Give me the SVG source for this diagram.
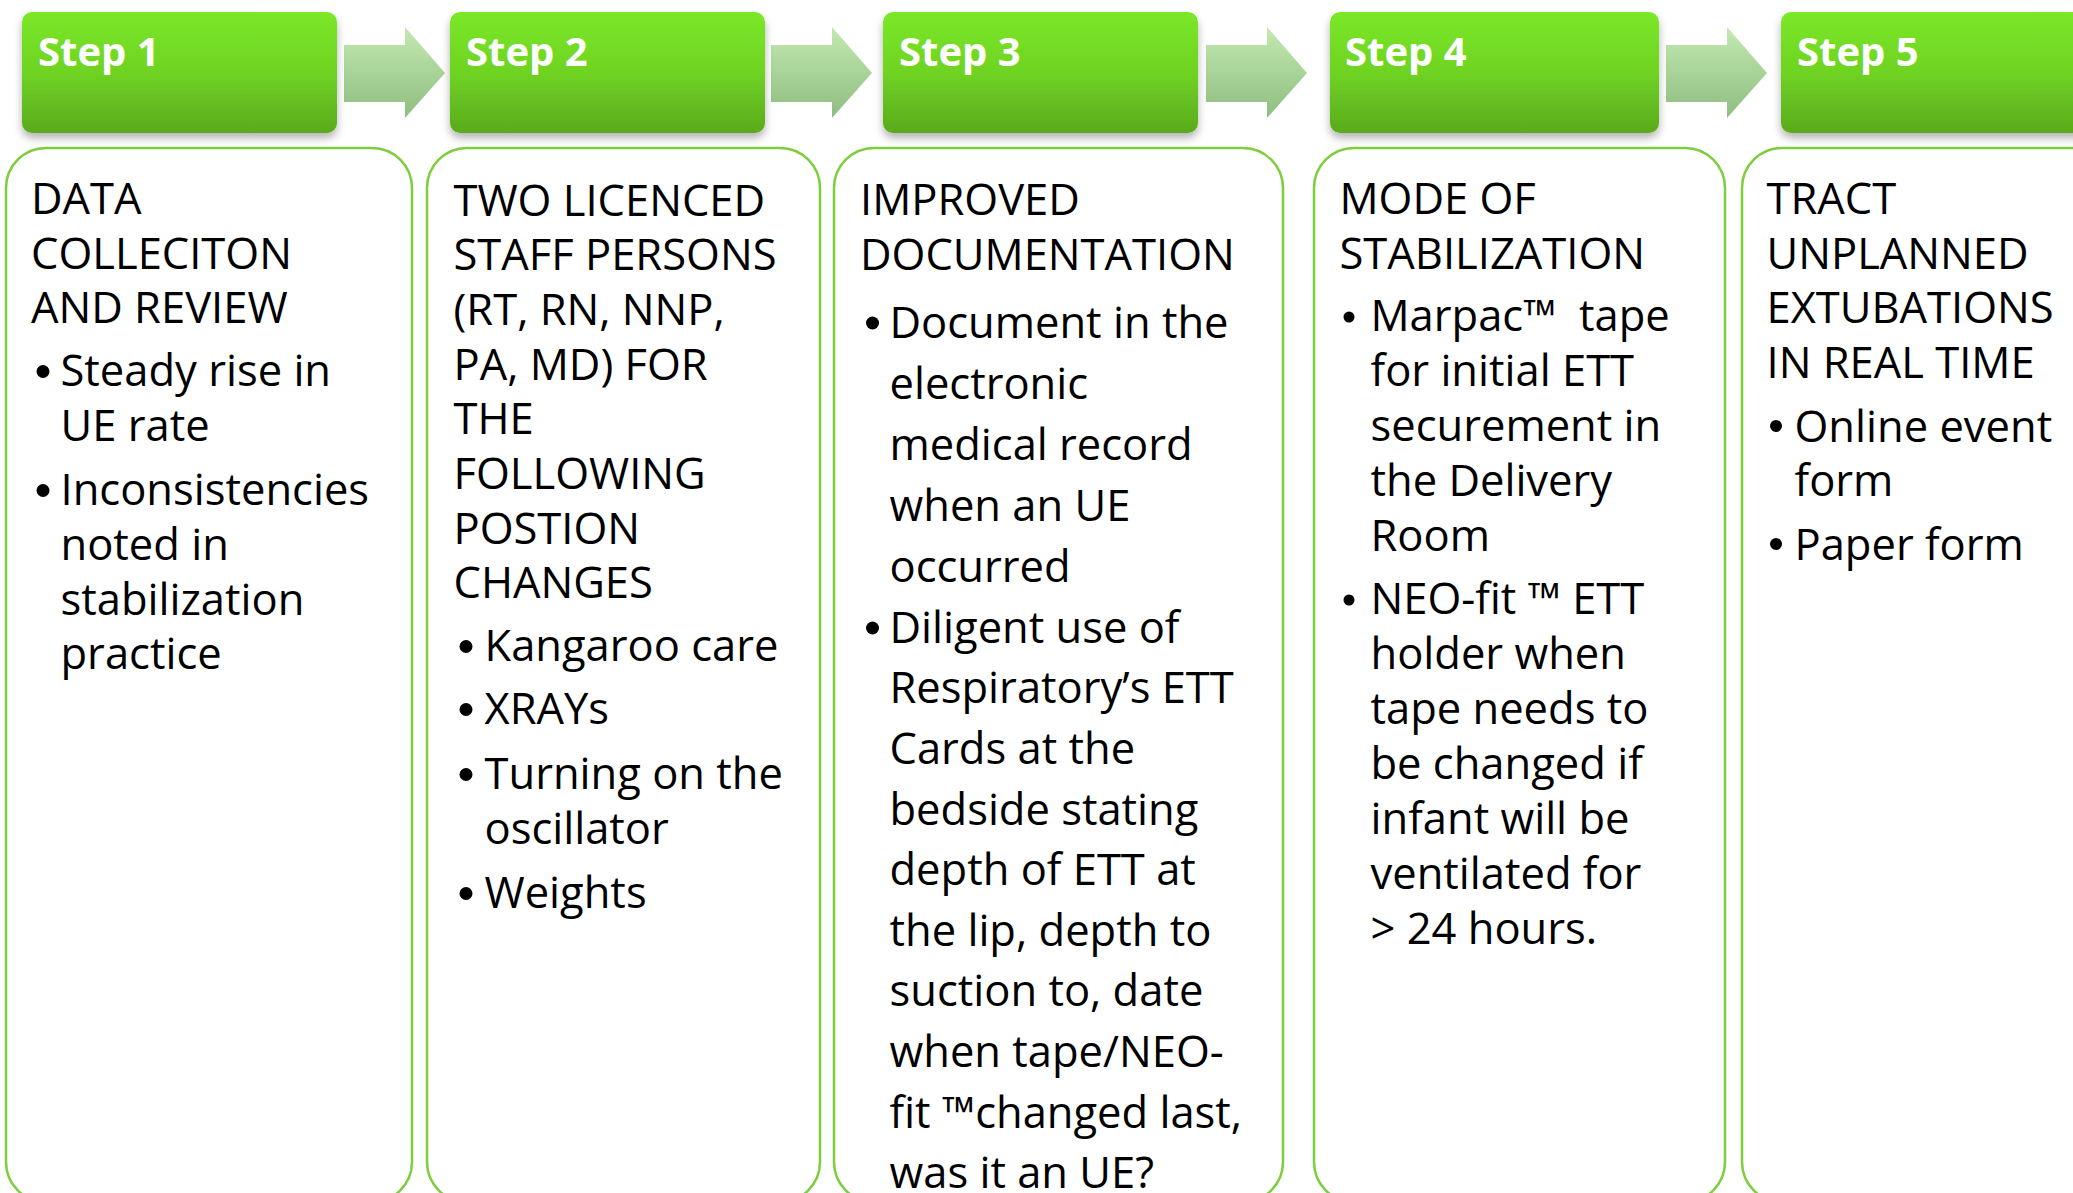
<svg xmlns="http://www.w3.org/2000/svg" width="2073" height="1193" viewBox="0 0 2073 1193">
  <defs>
    <linearGradient id="hdrGrad" x1="0" y1="0" x2="0" y2="1">
      <stop offset="0" stop-color="#7be827"/>
      <stop offset="0.5" stop-color="#6fd323"/>
      <stop offset="1" stop-color="#5aaa1d"/>
    </linearGradient>
    <linearGradient id="arrGrad" x1="0" y1="0" x2="0" y2="1">
      <stop offset="0" stop-color="#c3e9b1"/>
      <stop offset="1" stop-color="#8fbd80"/>
    </linearGradient>
    <filter id="shadow" x="-10%" y="-20%" width="120%" height="150%">
      <feDropShadow dx="0" dy="5" stdDeviation="4" flood-color="#000" flood-opacity="0.3"/>
    </filter>
  </defs>
  <style>
    .hdr { fill: url(#hdrGrad); filter: url(#shadow); }
    .hdrtxt { font-family: "Open Sans", "Noto Sans", sans-serif; font-weight: 700; font-size: 40px; fill: #ffffff; }
    .box { fill: #ffffff; stroke: #7dcd3c; stroke-width: 2.5; }
    .t { font-family: "Open Sans", "Noto Sans", sans-serif; font-size: 43.5px; fill: #000000; }
    .dot { fill: #000000; }
    .arr { fill: url(#arrGrad); }
  </style>
  <rect width="2073" height="1193" fill="#ffffff"/>

  <g id="connectors">
    <polygon class="arr" points="344,45 405,45 405,27 445,73 405,118 405,102 344,102"/>
    <polygon class="arr" points="771,45 832,45 832,27 872,73 832,118 832,102 771,102"/>
    <polygon class="arr" points="1206,45 1267,45 1267,27 1307,73 1267,118 1267,102 1206,102"/>
    <polygon class="arr" points="1666,45 1727,45 1727,27 1767,73 1727,118 1727,102 1666,102"/>
  </g>

  <g id="step1">
    <rect class="hdr" x="22" y="12" width="315" height="121" rx="10"/>
    <text class="hdrtxt" x="38" y="66">Step 1</text>
    <rect class="box" x="6" y="148" width="406" height="1054" rx="40"/>
    <text class="t" x="31" y="214">DATA</text>
    <text class="t" x="31" y="268.5">COLLECITON</text>
    <text class="t" x="31" y="323">AND REVIEW</text>
    <circle class="dot" cx="43" cy="371.5" r="6.5"/>
    <text class="t" x="60.5" y="386">Steady rise in</text>
    <text class="t" x="60.5" y="441">UE rate</text>
    <circle class="dot" cx="43" cy="490.5" r="6.5"/>
    <text class="t" x="60.5" y="505">Inconsistencies</text>
    <text class="t" x="60.5" y="560">noted in</text>
    <text class="t" x="60.5" y="615">stabilization</text>
    <text class="t" x="60.5" y="669">practice</text>
  </g>

  <g id="step2">
    <rect class="hdr" x="450" y="12" width="315" height="121" rx="10"/>
    <text class="hdrtxt" x="466" y="66">Step 2</text>
    <rect class="box" x="427" y="148" width="393" height="1054" rx="40"/>
    <text class="t" x="453.5" y="215.5">TWO LICENCED</text>
    <text class="t" x="453.5" y="270">STAFF PERSONS</text>
    <text class="t" x="453.5" y="325">(RT, RN, NNP,</text>
    <text class="t" x="453.5" y="380">PA, MD) FOR</text>
    <text class="t" x="453.5" y="434">THE</text>
    <text class="t" x="453.5" y="489">FOLLOWING</text>
    <text class="t" x="453.5" y="544">POSTION</text>
    <text class="t" x="453.5" y="598">CHANGES</text>
    <circle class="dot" cx="466" cy="646.5" r="6.5"/>
    <text class="t" x="484.5" y="661">Kangaroo care</text>
    <circle class="dot" cx="466" cy="709.5" r="6.5"/>
    <text class="t" x="484.5" y="724">XRAYs</text>
    <circle class="dot" cx="466" cy="774.5" r="6.5"/>
    <text class="t" x="484.5" y="789">Turning on the</text>
    <text class="t" x="484.5" y="844">oscillator</text>
    <circle class="dot" cx="466" cy="893.5" r="6.5"/>
    <text class="t" x="484.5" y="908">Weights</text>
  </g>

  <g id="step3">
    <rect class="hdr" x="883" y="12" width="315" height="121" rx="10"/>
    <text class="hdrtxt" x="899" y="66">Step 3</text>
    <rect class="box" x="834" y="148" width="449" height="1054" rx="40"/>
    <text class="t" x="860" y="215">IMPROVED</text>
    <text class="t" x="860" y="269.5">DOCUMENTATION</text>
    <circle class="dot" cx="872.5" cy="323" r="6.5"/>
    <text class="t" x="889.5" y="337.5">Document in the</text>
    <text class="t" x="889.5" y="398.5">electronic</text>
    <text class="t" x="889.5" y="459.5">medical record</text>
    <text class="t" x="889.5" y="520.5">when an UE</text>
    <text class="t" x="889.5" y="581.5">occurred</text>
    <circle class="dot" cx="872.5" cy="628" r="6.5"/>
    <text class="t" x="889.5" y="642.5">Diligent use of</text>
    <text class="t" x="889.5" y="703">Respiratory’s ETT</text>
    <text class="t" x="889.5" y="764">Cards at the</text>
    <text class="t" x="889.5" y="824.5">bedside stating</text>
    <text class="t" x="889.5" y="885">depth of ETT at</text>
    <text class="t" x="889.5" y="945.5">the lip, depth to</text>
    <text class="t" x="889.5" y="1006">suction to, date</text>
    <text class="t" x="889.5" y="1067">when tape/NEO-</text>
    <text class="t" x="889.5" y="1127.5">fit ™changed last,</text>
    <text class="t" x="889.5" y="1188">was it an UE?</text>
  </g>

  <g id="step4">
    <rect class="hdr" x="1330" y="12" width="329" height="121" rx="10"/>
    <text class="hdrtxt" x="1345" y="66">Step 4</text>
    <rect class="box" x="1314" y="148" width="411" height="1054" rx="40"/>
    <text class="t" x="1339.5" y="213.5">MODE OF</text>
    <text class="t" x="1339.5" y="268.5">STABILIZATION</text>
    <circle class="dot" cx="1349" cy="317" r="5.5"/>
    <text class="t" x="1370.5" y="331">Marpac™&#160; tape</text>
    <text class="t" x="1370.5" y="386">for initial ETT</text>
    <text class="t" x="1370.5" y="441">securement in</text>
    <text class="t" x="1370.5" y="496">the Delivery</text>
    <text class="t" x="1370.5" y="551">Room</text>
    <circle class="dot" cx="1349" cy="600" r="5.5"/>
    <text class="t" x="1370.5" y="614">NEO-fit ™ ETT</text>
    <text class="t" x="1370.5" y="669">holder when</text>
    <text class="t" x="1370.5" y="724">tape needs to</text>
    <text class="t" x="1370.5" y="779">be changed if</text>
    <text class="t" x="1370.5" y="834">infant will be</text>
    <text class="t" x="1370.5" y="889">ventilated for</text>
    <text class="t" x="1370.5" y="943.5">&gt; 24 hours.</text>
  </g>

  <g id="step5">
    <rect class="hdr" x="1781" y="12" width="330" height="121" rx="10"/>
    <text class="hdrtxt" x="1797" y="66">Step 5</text>
    <rect class="box" x="1742" y="148" width="420" height="1054" rx="40"/>
    <text class="t" x="1766.5" y="213.5">TRACT</text>
    <text class="t" x="1766.5" y="268.5">UNPLANNED</text>
    <text class="t" x="1766.5" y="323">EXTUBATIONS</text>
    <text class="t" x="1766.5" y="377.5">IN REAL TIME</text>
    <circle class="dot" cx="1776" cy="426" r="6"/>
    <text class="t" x="1794.5" y="441.5">Online event</text>
    <text class="t" x="1794.5" y="496">form</text>
    <circle class="dot" cx="1776" cy="544" r="6"/>
    <text class="t" x="1794.5" y="559.5">Paper form</text>
  </g>
</svg>
